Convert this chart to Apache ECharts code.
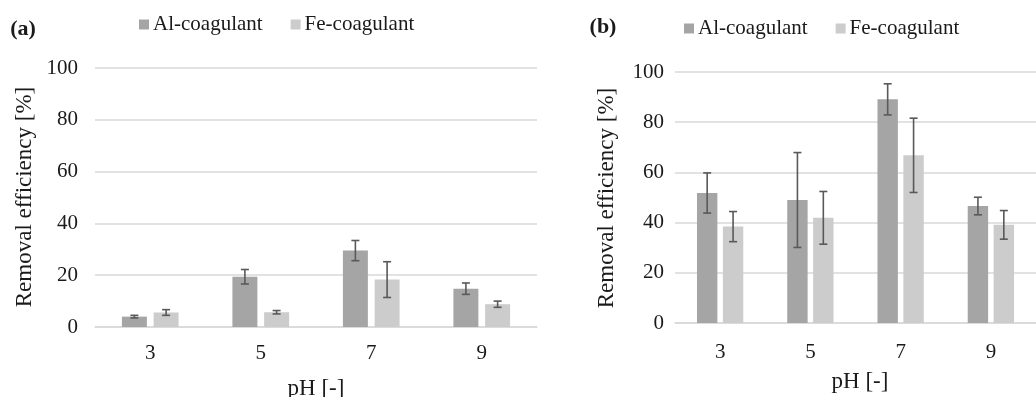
<!DOCTYPE html>
<html>
<head>
<meta charset="utf-8">
<script src="https://cdn.jsdelivr.net/npm/echarts@6/dist/echarts.min.js"></script>
<style>html,body{margin:0;padding:0;background:#fff;}#c{width:1036px;height:397px;}</style>
</head>
<body>
<div id="c"></div>
<script>
const categories = ['3', '5', '7', '9'];
const yTicks = [0, 20, 40, 60, 80, 100];
// panel (a)
const alA = [4.0, 19.4, 29.5, 14.8];
const alAErr = [0.5, 2.8, 3.9, 2.2];
const feA = [5.6, 5.7, 18.3, 8.8];
const feAErr = [1.1, 0.65, 6.9, 1.2];
// panel (b)
const alB = [51.8, 49.0, 89.1, 46.6];
const alBErr = [8.0, 18.9, 6.2, 3.5];
const feB = [38.4, 41.9, 66.8, 39.1];
const feBErr = [6.0, 10.5, 14.8, 5.7];

const FONT = '"Liberation Serif", Tinos, "Times New Roman", "DejaVu Serif", serif';
const AL_COLOR = '#a5a5a5';
const FE_COLOR = '#cccccc';
const GRID_COLOR = '#d9d9d9';
const BAR_W = 0.226, BAR_GAP = 0.27;

function errSeries(name, vals, errs, idx, side) {
  return {
    type: 'custom', name: name + ' err', xAxisIndex: idx, yAxisIndex: idx, z: 10,
    silent: true,
    data: vals.map((v, i) => [i, v, errs[i]]),
    renderItem: function (params, api) {
      const i = api.value(0), v = api.value(1), e = api.value(2);
      const band = api.size([1, 0])[0];
      const off = side * band * BAR_W * (1 + BAR_GAP) / 2;
      const top = api.coord([i, v + e]);
      const bot = api.coord([i, v - e]);
      const x = top[0] + off;
      const cw = 4;
      const st = { stroke: '#595959', lineWidth: 1.6 };
      return {
        type: 'group', children: [
          { type: 'line', shape: { x1: x, y1: top[1], x2: x, y2: bot[1] }, style: st },
          { type: 'line', shape: { x1: x - cw, y1: top[1], x2: x + cw, y2: top[1] }, style: st },
          { type: 'line', shape: { x1: x - cw, y1: bot[1], x2: x + cw, y2: bot[1] }, style: st }
        ]
      };
    }
  };
}

function barSeries(name, vals, idx, color) {
  return {
    type: 'bar', name: name, xAxisIndex: idx, yAxisIndex: idx,
    data: vals, barWidth: (BAR_W * 100) + '%', barGap: (BAR_GAP * 100) + '%',
    itemStyle: { color: color }, emphasis: { disabled: true }
  };
}

function xAxis(idx, margin) {
  return {
    type: 'category', gridIndex: idx, data: categories,
    axisLine: { lineStyle: { color: GRID_COLOR, width: 1.5 } },
    axisTick: { show: false },
    axisLabel: { margin: margin, fontFamily: FONT, fontSize: 21, color: '#1a1a1a' }
  };
}
function yAxis(idx, margin) {
  return {
    type: 'value', gridIndex: idx, min: yTicks[0], max: yTicks[yTicks.length - 1], interval: 20,
    axisLine: { show: false }, axisTick: { show: false },
    splitLine: { lineStyle: { color: GRID_COLOR, width: 1.5 } },
    axisLabel: { margin: margin, fontFamily: FONT, fontSize: 21, color: '#1a1a1a' }
  };
}
function legend(left, top) {
  return {
    left: left, top: top, data: ['Al-coagulant', 'Fe-coagulant'],
    icon: 'rect', itemWidth: 10, itemHeight: 10, itemGap: 28,
    textStyle: { fontFamily: FONT, fontSize: 21, color: '#1a1a1a', padding: [0, 0, 0, -1] },
    selectedMode: false
  };
}
function txt(x, y, text, size, opts) {
  return Object.assign({
    type: 'text', x: x, y: y, silent: true,
    style: { text: text, fontFamily: FONT, fontSize: size, fontWeight: (opts && opts.bold) ? 'bold' : 'normal',
             fill: '#1a1a1a', textAlign: 'center', textVerticalAlign: 'middle' }
  }, opts && opts.rot ? { rotation: opts.rot } : {});
}

const chart = echarts.init(document.getElementById('c'));
chart.setOption({
  backgroundColor: '#fff',
  animation: false,
  textStyle: { fontFamily: FONT },
  legend: [legend(134, 9), legend(679, 13)],
  grid: [
    { left: 95, top: 68, width: 442, height: 259 },
    { left: 675, top: 72, width: 372, height: 251 }
  ],
  xAxis: [xAxis(0, 16), xAxis(1, 19)],
  yAxis: [yAxis(0, 17), yAxis(1, 11)],
  series: [
    barSeries('Al-coagulant', alA, 0, AL_COLOR),
    barSeries('Fe-coagulant', feA, 0, FE_COLOR),
    barSeries('Al-coagulant', alB, 1, AL_COLOR),
    barSeries('Fe-coagulant', feB, 1, FE_COLOR),
    errSeries('Al-coagulant', alA, alAErr, 0, -1),
    errSeries('Fe-coagulant', feA, feAErr, 0, 1),
    errSeries('Al-coagulant', alB, alBErr, 1, -1),
    errSeries('Fe-coagulant', feB, feBErr, 1, 1)
  ],
  graphic: [
    txt(23, 29, '(a)', 22, { bold: true }),
    txt(603, 27, '(b)', 22, { bold: true }),
    txt(25, 197, 'Removal efficiency [%]', 23, { rot: Math.PI / 2 }),
    txt(607, 198, 'Removal efficiency [%]', 23, { rot: Math.PI / 2 }),
    txt(316, 389, 'pH [-]', 23),
    txt(860, 382, 'pH [-]', 23)
  ]
});
</script>
</body>
</html>
